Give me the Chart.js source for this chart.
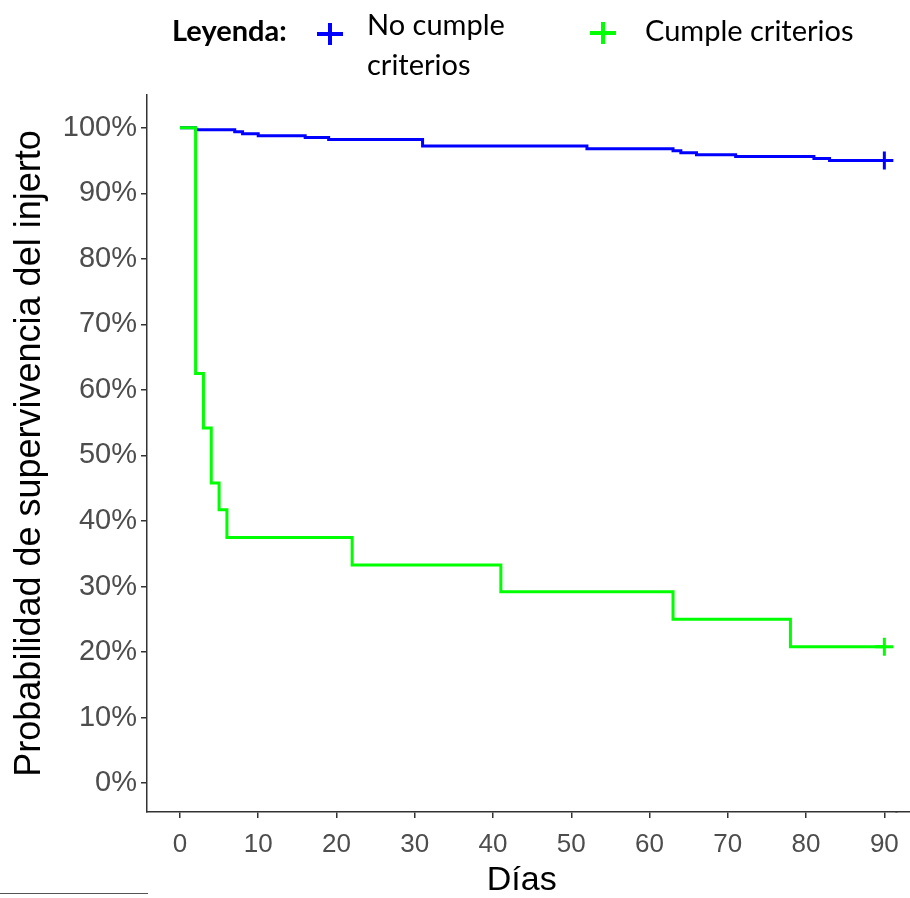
<!DOCTYPE html>
<html>
<head>
<meta charset="UTF-8">
<script src="https://cdn.jsdelivr.net/npm/chart.js@4.4.0/dist/chart.umd.min.js"></script>
<style>
	body { margin: 0; background: #fff; }
	#wrap { position: relative; width: 910px; height: 898px; }
	.leg { position: absolute; font-family: Lato, 'Open Sans', sans-serif; font-size: 29px; color: #000; line-height: 40px; white-space: nowrap; }
	.plus { position: absolute; width: 26px; height: 22px; }
	.plus::before, .plus::after { content: ""; position: absolute; background: var(--c); }
	.plus::before { left: 0; top: 9px; width: 26px; height: 4px; }
	.plus::after { left: 11px; top: 0; width: 4px; height: 22px; }
	#foot { position: absolute; left: 0; top: 893px; width: 148px; height: 1px; background: #555; }
</style>
</head>
<body>
<div id="wrap">
	<canvas id="km" width="910" height="898"></canvas>
	<div class="leg" style="left:172px;top:10px;font-weight:bold">Leyenda:</div>
	<div class="plus" style="left:317px;top:23px;--c:#0000ff"></div>
	<div class="leg" style="left:367px;top:4px">No cumple<br>criterios</div>
	<div class="plus" style="left:590px;top:22px;--c:#00ff00"></div>
	<div class="leg" style="left:645px;top:10px">Cumple criterios</div>
	<div id="foot"></div>
</div>
<script>
	// Kaplan-Meier curves, survival in %
	const blueDays = [0, 2, 7, 8, 10, 16, 19, 31, 52, 63, 64, 66, 71, 81, 83, 90];
	const blueSurv = [100, 99.7, 99.4, 99.1, 98.8, 98.5, 98.2, 97.2, 96.8, 96.5, 96.2, 95.9, 95.6, 95.3, 95.0, 95.0];
	const greenDays = [0, 2, 3, 4, 5, 6, 22, 41, 63, 78, 90];
	const greenSurv = [100, 62.5, 54.2, 45.8, 41.7, 37.5, 33.3, 29.2, 25.0, 20.8, 20.8];
	const xTicks = [0, 10, 20, 30, 40, 50, 60, 70, 80, 90];
	const yTicks = [0, 10, 20, 30, 40, 50, 60, 70, 80, 90, 100];

	function pts(xs, ys) {
		return xs.map((x, i) => ({ x: x, y: ys[i] }));
	}
	function lastOnly(n, r) {
		return ctx => ctx.dataIndex === n - 1 ? r : 0;
	}

	// the bottom axis line runs on to the right edge in the original
	const axisTail = {
		id: "axisTail",
		afterDraw(chart) {
			const a = chart.chartArea, c = chart.ctx;
			const y = Math.round(a.bottom - 0.75) + 0.75;
			c.save();
			c.strokeStyle = "#333";
			c.lineWidth = 1.5;
			c.beginPath();
			c.moveTo(a.right - 1, y);
			c.lineTo(chart.width, y);
			c.stroke();
			c.restore();
		}
	};

	new Chart("km", {
		type: "line",
		data: {
			datasets: [{
				label: "Cumple criterios",
				data: pts(greenDays, greenSurv),
				borderColor: "#00ff00",
				borderWidth: 3,
				stepped: "before",
				fill: false,
				pointStyle: "cross",
				pointRadius: lastOnly(greenDays.length, 9),
				pointBorderColor: "#00ff00",
				pointBorderWidth: 3
			}, {
				label: "No cumple criterios",
				data: pts(blueDays, blueSurv),
				borderColor: "#0000ff",
				borderWidth: 3,
				stepped: "before",
				fill: false,
				pointStyle: "cross",
				pointRadius: lastOnly(blueDays.length, 9),
				pointBorderColor: "#0000ff",
				pointBorderWidth: 3
			}]
		},
		plugins: [axisTail],
		options: {
			responsive: false,
			animation: false,
			events: [],
			layout: { padding: { top: 95, left: 0, right: 0, bottom: 0 } },
			plugins: { legend: { display: false }, tooltip: { enabled: false } },
			scales: {
				x: {
					type: "linear",
					min: -4.21,
					max: 91.54,
					afterBuildTicks: s => { s.ticks = xTicks.map(v => ({ value: v })); },
					afterFit: s => { s.height = 86; },
					ticks: { font: { family: "Liberation Sans", size: 26 }, color: "#4d4d4d", padding: 11, maxRotation: 0 },
					grid: { drawOnChartArea: false, tickLength: 6, color: "#333", lineWidth: 1.5 },
					border: { color: "#333", width: 1.5 },
					title: { display: true, text: "Días", font: { family: "Liberation Sans", size: 34, lineHeight: 1 }, color: "#000", padding: { top: 0, bottom: 0 } }
				},
				y: {
					min: -4.4,
					max: 105,
					afterBuildTicks: s => { s.ticks = yTicks.map(v => ({ value: v })); },
					afterFit: s => { s.width = 147; },
					ticks: { font: { family: "Liberation Sans", size: 29 }, color: "#4d4d4d", padding: 4, callback: v => v + "%" },
					grid: { drawOnChartArea: false, tickLength: 6, color: "#333", lineWidth: 1.5 },
					border: { color: "#333", width: 1.5 },
					title: { display: true, text: "Probabilidad de supervivencia del injerto", font: { family: "Liberation Sans", size: 36, lineHeight: 1 }, color: "#000", padding: { top: 12, bottom: 0 } }
				}
			}
		}
	});
</script>
</body>
</html>
